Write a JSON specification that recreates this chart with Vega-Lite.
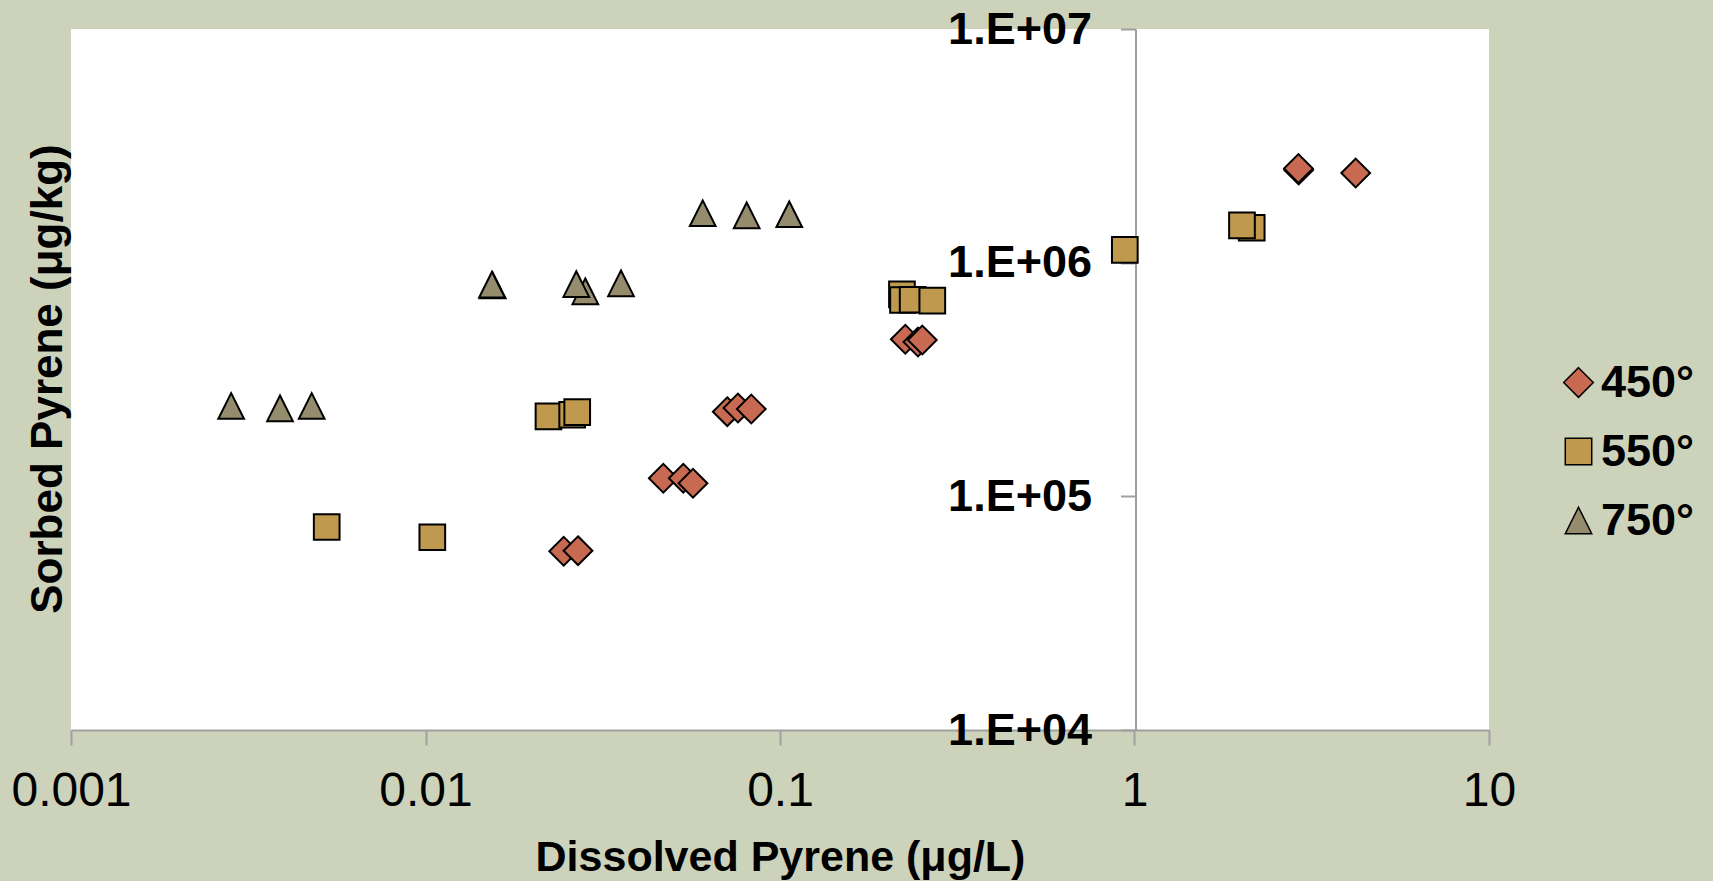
{
  "$schema": "https://vega.github.io/schema/vega-lite/v6.json",
  "width": 1418,
  "height": 701,
  "autosize": "none",
  "padding": {"left": 71, "top": 29, "right": 224, "bottom": 151},
  "background": "#CDD2BB",
  "view": {"fill": "white", "stroke": null},
  "config": {"font": "Liberation Sans"},
  "data": {
    "values": [
      {"series": "450°", "dissolved": 0.02454, "sorbed": 58200},
      {"series": "450°", "dissolved": 0.02693, "sorbed": 58530},
      {"series": "450°", "dissolved": 0.04686, "sorbed": 119500},
      {"series": "450°", "dissolved": 0.05336, "sorbed": 119500},
      {"series": "450°", "dissolved": 0.05683, "sorbed": 113700},
      {"series": "450°", "dissolved": 0.07101, "sorbed": 230300},
      {"series": "450°", "dissolved": 0.0761, "sorbed": 238800},
      {"series": "450°", "dissolved": 0.08299, "sorbed": 236500},
      {"series": "450°", "dissolved": 0.2257, "sorbed": 470000},
      {"series": "450°", "dissolved": 0.245, "sorbed": 457700},
      {"series": "450°", "dissolved": 0.252, "sorbed": 466700},
      {"series": "450°", "dissolved": 2.905, "sorbed": 2492000},
      {"series": "450°", "dissolved": 2.9, "sorbed": 2530000},
      {"series": "450°", "dissolved": 4.207, "sorbed": 2419000},
      {"series": "550°", "dissolved": 0.005264, "sorbed": 73900},
      {"series": "550°", "dissolved": 0.010452, "sorbed": 66800},
      {"series": "550°", "dissolved": 0.02223, "sorbed": 220000},
      {"series": "550°", "dissolved": 0.02593, "sorbed": 223400},
      {"series": "550°", "dissolved": 0.02679, "sorbed": 229200},
      {"series": "550°", "dissolved": 0.2208, "sorbed": 732000},
      {"series": "550°", "dissolved": 0.2223, "sorbed": 692000},
      {"series": "550°", "dissolved": 0.2367, "sorbed": 694000},
      {"series": "550°", "dissolved": 0.2689, "sorbed": 688000},
      {"series": "550°", "dissolved": 0.939, "sorbed": 1135000},
      {"series": "550°", "dissolved": 2.141, "sorbed": 1411000},
      {"series": "550°", "dissolved": 2.01, "sorbed": 1445000},
      {"series": "750°", "dissolved": 0.00283, "sorbed": 243600},
      {"series": "750°", "dissolved": 0.003887, "sorbed": 238100},
      {"series": "750°", "dissolved": 0.004775, "sorbed": 243600},
      {"series": "750°", "dissolved": 0.01547, "sorbed": 800000},
      {"series": "750°", "dissolved": 0.0154, "sorbed": 805000},
      {"series": "750°", "dissolved": 0.02824, "sorbed": 754000},
      {"series": "750°", "dissolved": 0.02663, "sorbed": 810000},
      {"series": "750°", "dissolved": 0.0356, "sorbed": 816000},
      {"series": "750°", "dissolved": 0.06053, "sorbed": 1627000},
      {"series": "750°", "dissolved": 0.08054, "sorbed": 1595000},
      {"series": "750°", "dissolved": 0.1062, "sorbed": 1611000}
    ]
  },
  "mark": {"type": "point", "filled": true, "stroke": "black", "strokeWidth": 2, "size": 660, "opacity": 1},
  "encoding": {
    "x": {
      "field": "dissolved",
      "type": "quantitative",
      "scale": {"type": "log", "domain": [0.001, 10], "nice": false},
      "axis": {
        "title": "Dissolved Pyrene (μg/L)",
        "values": [0.001, 0.01, 0.1, 1, 10],
        "format": ".3~f",
        "grid": false,
        "domainColor": "#A0A0A0",
        "domainWidth": 2,
        "tickColor": "#A0A0A0",
        "tickWidth": 2,
        "tickSize": 15,
        "labelFont": "Liberation Sans",
        "labelFontSize": 48,
        "labelFontWeight": "normal",
        "labelColor": "black",
        "labelPadding": 22,
        "labelFlush": false,
        "labelOverlap": false,
        "titleFont": "Liberation Sans",
        "titleFontSize": 43,
        "titleFontWeight": "bold",
        "titleColor": "black",
        "titleBaseline": "alphabetic",
        "titleY": 140
      }
    },
    "y": {
      "field": "sorbed",
      "type": "quantitative",
      "scale": {"type": "log", "domain": [10000, 10000000], "nice": false},
      "axis": {
        "title": "Sorbed Pyrene (μg/kg)",
        "values": [10000, 100000, 1000000, 10000000],
        "labelExpr": "'1.E+0' + round(log(datum.value)/LN10)",
        "offset": -1064.5,
        "grid": false,
        "domainColor": "#A0A0A0",
        "domainWidth": 2,
        "tickColor": "#A0A0A0",
        "tickWidth": 2,
        "tickSize": 15,
        "labelFont": "Liberation Sans",
        "labelFontSize": 45,
        "labelFontWeight": "bold",
        "labelColor": "black",
        "labelPadding": 29,
        "labelFlush": false,
        "labelOverlap": false,
        "labelBaseline": "middle",
        "titleFont": "Liberation Sans",
        "titleFontSize": 44,
        "titleFontWeight": "bold",
        "titleColor": "black",
        "titleAngle": -90,
        "titleAlign": "center",
        "titleBaseline": "alphabetic",
        "titleX": -1074.5,
        "titleY": 349.5
      }
    },
    "shape": {
      "field": "series",
      "type": "nominal",
      "scale": {"domain": ["450°", "550°", "750°"], "range": ["M0,-1.12L1.12,0L0,1.12L-1.12,0Z", "square", "M0,-1L1,1L-1,1Z"]},
      "legend": {
        "title": null,
        "orient": "none",
        "legendX": 1485,
        "legendY": 331,
        "padding": 0,
        "symbolSize": 700,
        "symbolStrokeColor": "black",
        "symbolStrokeWidth": 1.5,
        "symbolOpacity": 1,
        "labelFont": "Liberation Sans",
        "labelFontSize": 45,
        "labelFontWeight": "bold",
        "labelColor": "black",
        "labelOffset": 0,
        "rowPadding": 23,
        "encode": {"symbols": {"update": {"stroke": {"value": "black"}, "strokeWidth": {"value": 1.5}}}}
      }
    },
    "fill": {
      "field": "series",
      "type": "nominal",
      "scale": {"domain": ["450°", "550°", "750°"], "range": ["#C76A51", "#BF994E", "#958C6E"]},
      "legend": {
        "title": null,
        "orient": "none",
        "legendX": 1485,
        "legendY": 331,
        "padding": 0,
        "symbolSize": 700,
        "symbolStrokeColor": "black",
        "symbolStrokeWidth": 1.5,
        "symbolOpacity": 1,
        "labelFont": "Liberation Sans",
        "labelFontSize": 45,
        "labelFontWeight": "bold",
        "labelColor": "black",
        "labelOffset": 0,
        "rowPadding": 23,
        "encode": {"symbols": {"update": {"stroke": {"value": "black"}, "strokeWidth": {"value": 1.5}}}}
      }
    }
  }
}
